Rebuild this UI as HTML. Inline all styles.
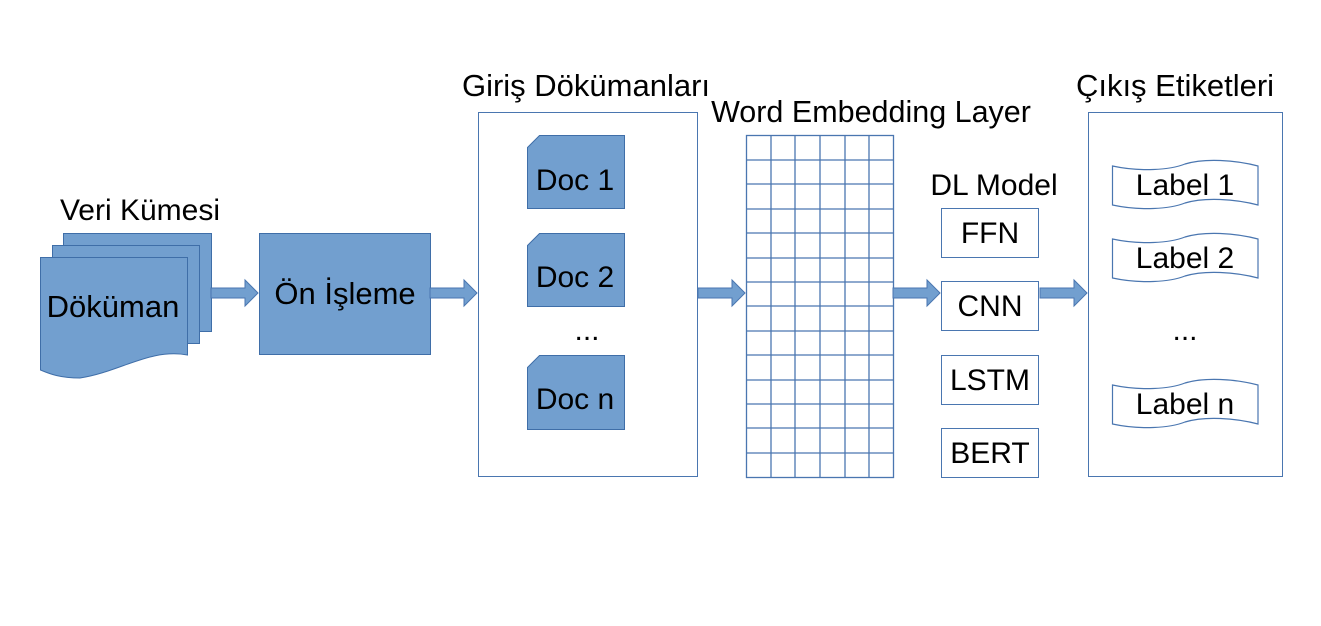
<!DOCTYPE html>
<html><head><meta charset="utf-8"><style>body{margin:0;background:#fff}svg{display:block}text{font-family:"Liberation Sans",sans-serif;fill:#000}</style></head><body>
<svg width="1321" height="626" viewBox="0 0 1321 626" xmlns="http://www.w3.org/2000/svg">
<defs>
<g id="arr"><path d="M0,-5 H34 V-13 L47,0 L34,13 V5 H0 Z" fill="#729fcf" stroke="#4a76b0" stroke-width="1"/></g>
</defs>
<rect x="63.5" y="233.5" width="148" height="98" fill="#729fcf" stroke="#3f6ea8"/>
<rect x="52.5" y="245.5" width="147" height="98" fill="#729fcf" stroke="#3f6ea8"/>
<path d="M40.5,257.5 H187.5 V355 C150,348 120,372 80,378 C60,378 50,374 40.5,370 Z" fill="#729fcf" stroke="#3f6ea8"/>
<text x="113" y="317" font-size="31" text-anchor="middle">Döküman</text>
<text x="140" y="220" font-size="30" text-anchor="middle">Veri Kümesi</text>
<use href="#arr" x="211" y="293"/>
<rect x="259.5" y="233.5" width="171" height="121" fill="#729fcf" stroke="#3f6ea8"/>
<text x="345" y="304" font-size="31" text-anchor="middle">Ön İşleme</text>
<use href="#arr" x="430" y="293"/>
<rect x="478.5" y="112.5" width="219" height="364" fill="#fff" stroke="#4a76b0"/>
<text x="586" y="96" font-size="31" text-anchor="middle">Giriş Dökümanları</text>
<g fill="#729fcf" stroke="#3f6ea8">
<path d="M527.5,147.5 L539.5,135.5 H624.5 V208.5 H527.5 Z"/>
<path d="M527.5,245.5 L539.5,233.5 H624.5 V306.5 H527.5 Z"/>
<path d="M527.5,367.5 L539.5,355.5 H624.5 V429.5 H527.5 Z"/>
</g>
<text x="575" y="190" font-size="30" text-anchor="middle">Doc 1</text>
<text x="575" y="287" font-size="30" text-anchor="middle">Doc 2</text>
<text x="587" y="340" font-size="30" text-anchor="middle">...</text>
<text x="575" y="409" font-size="30" text-anchor="middle">Doc n</text>
<use href="#arr" x="698" y="293"/>
<text x="871" y="122" font-size="30.5" text-anchor="middle">Word Embedding Layer</text>
<g stroke="#4a76b0" stroke-width="1.3" fill="none">
<rect x="746.5" y="135.5" width="147" height="342"/>
<path d="M771,135V477M795,135V477M820,135V477M845,135V477M869,135V477"/>
<path d="M746,160H893M746,184H893M746,209H893M746,233H893M746,258H893M746,282H893M746,306H893M746,331H893M746,355H893M746,380H893M746,404H893M746,428H893M746,453H893"/>
</g>
<use href="#arr" x="893" y="293"/>
<text x="994" y="195" font-size="30" text-anchor="middle">DL Model</text>
<g fill="#fff" stroke="#4a76b0">
<rect x="941.5" y="208.5" width="97" height="49"/>
<rect x="941.5" y="281.5" width="97" height="49"/>
<rect x="941.5" y="355.5" width="97" height="49"/>
<rect x="941.5" y="428.5" width="97" height="49"/>
</g>
<text x="990" y="243" font-size="30" text-anchor="middle">FFN</text>
<text x="990" y="316" font-size="30" text-anchor="middle">CNN</text>
<text x="990" y="390" font-size="30" text-anchor="middle">LSTM</text>
<text x="990" y="463" font-size="30" text-anchor="middle">BERT</text>
<use href="#arr" x="1040" y="293"/>
<rect x="1088.5" y="112.5" width="194" height="364" fill="#fff" stroke="#4a76b0"/>
<text x="1175" y="96" font-size="31" text-anchor="middle">Çıkış Etiketleri</text>
<g fill="#fff" stroke="#4a76b0" stroke-width="1.2">
<path d="M1112.5,166 C1140,172 1170,170 1185,164 C1205,158 1235,160 1258,166 V205 C1235,199 1205,197 1185,203 C1170,209 1140,211 1112.5,205 Z"/>
<path d="M1112.5,239 C1140,245 1170,243 1185,237 C1205,231 1235,233 1258,239 V278 C1235,272 1205,270 1185,276 C1170,282 1140,284 1112.5,278 Z"/>
<path d="M1112.5,385 C1140,391 1170,389 1185,383 C1205,377 1235,379 1258,385 V424 C1235,418 1205,416 1185,422 C1170,428 1140,430 1112.5,424 Z"/>
</g>
<text x="1185" y="195" font-size="30" text-anchor="middle">Label 1</text>
<text x="1185" y="268" font-size="30" text-anchor="middle">Label 2</text>
<text x="1185" y="340" font-size="30" text-anchor="middle">...</text>
<text x="1185" y="414" font-size="30" text-anchor="middle">Label n</text>
</svg>
</body></html>
